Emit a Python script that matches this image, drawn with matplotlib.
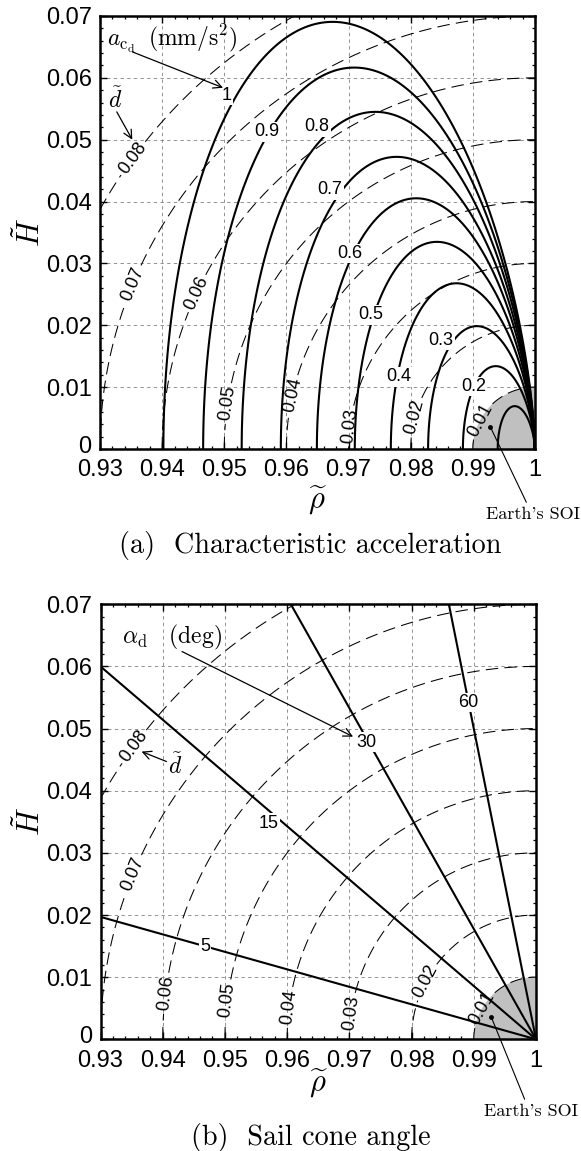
import numpy as np
import matplotlib
matplotlib.use('Agg')
import matplotlib.pyplot as plt
import matplotlib.transforms as mtransforms
from matplotlib.patches import Circle
from matplotlib.ticker import AutoMinorLocator, FixedLocator, FormatStrFormatter

plt.rcParams['mathtext.fontset'] = 'cm'
plt.rcParams['font.family'] = ['Liberation Sans', 'DejaVu Sans']

# ---------------- data ----------------
acc_levels = [0.1, 0.2, 0.3, 0.4, 0.5, 0.6, 0.7, 0.8, 0.9, 1.0]          # mm/s^2
acc_start_rho = [0.9940, 0.9884, 0.9828, 0.9768, 0.9710, 0.9649, 0.9591,
                 0.9528, 0.9466, 0.9402]                                   # where each curve leaves H=0
acc_labels = ['0.2', '0.3', '0.4', '0.5', '0.6', '0.7', '0.8', '0.9', '1']
dist_levels = [0.01, 0.02, 0.03, 0.04, 0.05, 0.06, 0.07, 0.08]
cone_angles = [5, 15, 30, 60]                                              # deg
cone_end_rho = [0.93, 0.93, 0.9606, 0.9860]
cone_end_H = [0.0197, 0.0600, 0.0700, 0.0700]
rho_ticks = [0.93, 0.94, 0.95, 0.96, 0.97, 0.98, 0.99, 1.0]
H_ticks = [0, 0.01, 0.02, 0.03, 0.04, 0.05, 0.06, 0.07]
earth_rho = 1.0
soi_radius = 0.01
soi_marker = (0.9928, 0.0036)

# ---------------- layout (positions only) ----------------
acc_label_pos = [(0.9901, 0.0101), (0.9849, 0.0176), (0.9780, 0.0117), (0.9735, 0.0217),
                 (0.9702, 0.0316), (0.9670, 0.0419), (0.9649, 0.0521), (0.9568, 0.0513),
                 (0.9504, 0.0572)]
dist_label_pos_a = [(0.9911, 0.0047), (0.9804, 0.0052), (0.9689, 0.0039), (0.9611, 0.0087),
                    (0.9504, 0.0074), (0.9455, 0.0252), (0.9356, 0.0265), (0.9353, 0.0470)]
dist_label_pos_b = [(0.9917, 0.0047), (0.9828, 0.0090), (0.9704, 0.0042), (0.9600, 0.0052),
                    (0.9508, 0.0063), (0.9407, 0.0074), (0.9358, 0.0264), (0.9354, 0.0471)]
cone_label_pos = [(0.9468, 0.0149), (0.9570, 0.0348), (0.9728, 0.0478), (0.9891, 0.0542)]

W, H_PX = 581, 1151
fig = plt.figure(figsize=(W / 100, H_PX / 100), dpi=100)
ax1 = fig.add_axes([100 / W, 1 - 449 / H_PX, 435 / W, 433 / H_PX])
ax2 = fig.add_axes([100.5 / W, 1 - 1039.3 / H_PX, 435.5 / W, 435 / H_PX])

rho = np.linspace(rho_ticks[0], rho_ticks[-1], 1601)
hh = np.linspace(H_ticks[0], H_ticks[-1], 1601)
R, HH = np.meshgrid(rho, hh)
U = np.maximum(earth_rho - R, 1e-12)
D = np.sqrt((earth_rho - R) ** 2 + HH ** 2)
# Hill-type shape of equal-acceleration curves, scaled by each curve's start point
G = (9 * U ** 2 + HH ** 2) ** 1.5 / (27 * U ** 2)
acc_u0 = [earth_rho - s for s in acc_start_rho]

dist_fmt = {lv: f'{lv:g}' for lv in dist_levels}
label_bbox = dict(boxstyle='square,pad=0.08', fc='white', ec='none')


def style_axes(ax):
    ax.set_xlim(rho_ticks[0], rho_ticks[-1])
    ax.set_ylim(H_ticks[0], H_ticks[-1])
    ax.xaxis.set_major_locator(FixedLocator(rho_ticks))
    ax.yaxis.set_major_locator(FixedLocator(H_ticks))
    ax.xaxis.set_major_formatter(FormatStrFormatter('%g'))
    ax.yaxis.set_major_formatter(FormatStrFormatter('%g'))
    ax.xaxis.set_minor_locator(AutoMinorLocator(5))
    ax.yaxis.set_minor_locator(AutoMinorLocator(5))
    ax.tick_params(which='both', direction='in', top=True, right=True, labelsize=17)
    ax.tick_params(which='major', length=5, width=1.0)
    ax.tick_params(which='minor', length=2.5, width=0.9)
    ax.tick_params(axis='x', pad=7.5)
    ax.tick_params(axis='y', pad=6)
    for sp in ax.spines.values():
        sp.set_linewidth(1.8)
    ax.set_axisbelow(True)
    ax.grid(True, which='major', color='0.5', linestyle=(0, (4, 4)), linewidth=0.6)
    ax.add_patch(Circle((earth_rho, 0), soi_radius, fc='#c0c0c0', ec='none', zorder=0.8))
    # lift the "0" label on the H axis slightly so it clears the first rho label
    lab = ax.yaxis.get_major_ticks()[0].label1
    lab.set_transform(lab.get_transform()
                      + mtransforms.ScaledTranslation(0, 3.5 / 72, fig.dpi_scale_trans))


def dashed_distance(ax, positions):
    cd = ax.contour(R, HH, D, levels=dist_levels, colors='k', linewidths=0.75, zorder=1.5)
    cd.set_linestyle((0, (12, 6)))
    ax.clabel(cd, dist_levels, manual=positions, inline=True, inline_spacing=3,
              fontsize=13, fmt=dist_fmt)


def soi_note(ax, xy_text):
    ax.plot([soi_marker[0]], [soi_marker[1]], 'o', color='k', ms=2.5, zorder=6)
    ax.annotate("Earth's SOI", xy=soi_marker, xycoords='data', xytext=xy_text,
                textcoords='figure pixels', ha='center', va='center', family='cmr10',
                fontsize=13, annotation_clip=False,
                arrowprops=dict(arrowstyle='-', lw=0.8, color='k', shrinkA=1, shrinkB=0,
                                relpos=(0.45, 1.0)))


# ---------------- (a) characteristic acceleration ----------------
style_axes(ax1)
dashed_distance(ax1, dist_label_pos_a)
ax1.contour(R, HH, G, levels=acc_u0, colors='k', linewidths=1.5, zorder=2)
for txt, (x, y) in zip(acc_labels, acc_label_pos):
    ax1.text(x, y, txt, ha='center', va='center', fontsize=13, bbox=label_bbox, zorder=5)
ax1.text(0.9311, 0.0664, r'$a_{\mathrm{c}_{\mathrm{d}}}\;\;(\mathrm{mm/s^2})$', fontsize=17,
         ha='left', va='center', zorder=6)
ax1.annotate('', xy=(0.9498, 0.0584), xytext=(0.9352, 0.0642),
             arrowprops=dict(arrowstyle='->,head_length=0.6,head_width=0.3', lw=0.9, color='k',
                             shrinkA=0, shrinkB=0), zorder=6)
ax1.text(0.9324, 0.0564, r'$\tilde{d}$', fontsize=17, ha='center', va='center', zorder=6)
ax1.annotate('', xy=(0.9352, 0.0500), xytext=(0.9327, 0.0545),
             arrowprops=dict(arrowstyle='->,head_length=0.6,head_width=0.3', lw=0.9, color='k',
                             shrinkA=0, shrinkB=0), zorder=6)
soi_note(ax1, (533, H_PX - 514))
ax1.text(-0.16, 0.5, r'$\tilde{H}$', transform=ax1.transAxes, rotation=90, fontsize=22,
         ha='center', va='center')
ax1.text(0.501, -0.118, r'$\widetilde{\rho}$', transform=ax1.transAxes, fontsize=22,
         ha='center', va='center')
fig.text(310 / W, 1 - 546 / H_PX, '(a)  Characteristic acceleration', family='cmr10',
         fontsize=20.3, ha='center', va='center')

# ---------------- (b) sail cone angle ----------------
style_axes(ax2)
dashed_distance(ax2, dist_label_pos_b)
for ang, er, eh, (lx, ly) in zip(cone_angles, cone_end_rho, cone_end_H, cone_label_pos):
    ax2.plot([earth_rho, er], [0, eh], color='k', lw=1.5, zorder=2, clip_on=True)
    ax2.text(lx, ly, f'{ang}', ha='center', va='center', fontsize=13, bbox=label_bbox, zorder=5)
ax2.text(0.9335, 0.0646, r'$\alpha_{\mathrm{d}}\quad(\mathrm{deg})$', fontsize=17,
         ha='left', va='center', zorder=6)
ax2.annotate('', xy=(0.9706, 0.0487), xytext=(0.9431, 0.0624),
             arrowprops=dict(arrowstyle='->,head_length=0.6,head_width=0.3', lw=0.9, color='k',
                             shrinkA=0, shrinkB=0), zorder=6)
ax2.text(0.9420, 0.0440, r'$\tilde{d}$', fontsize=17, ha='center', va='center', zorder=6)
ax2.annotate('', xy=(0.9366, 0.0463), xytext=(0.9406, 0.0447),
             arrowprops=dict(arrowstyle='->,head_length=0.6,head_width=0.3', lw=0.9, color='k',
                             shrinkA=0, shrinkB=0), zorder=6)
soi_note(ax2, (531, H_PX - 1111))
ax2.text(-0.16, 0.5, r'$\tilde{H}$', transform=ax2.transAxes, rotation=90, fontsize=22,
         ha='center', va='center')
ax2.text(0.501, -0.1, r'$\widetilde{\rho}$', transform=ax2.transAxes, fontsize=22,
         ha='center', va='center')
fig.text(311 / W, 1 - 1138 / H_PX, '(b)  Sail cone angle', family='cmr10',
         fontsize=20.3, ha='center', va='center')

fig.savefig('out.png', dpi=100)
